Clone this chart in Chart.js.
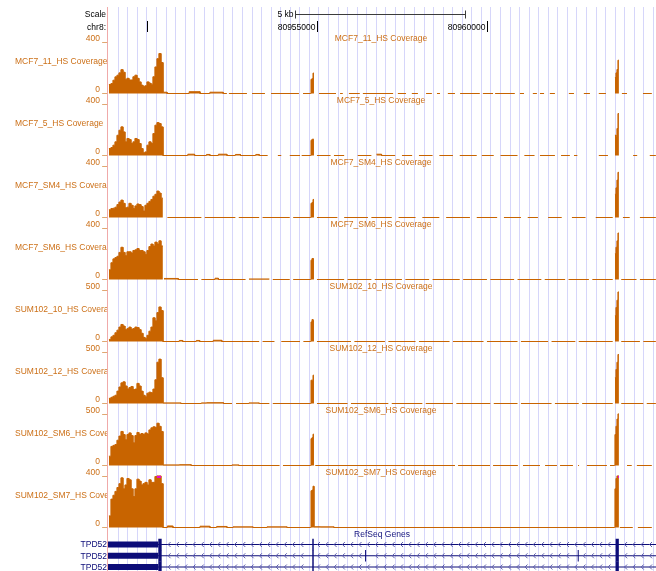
<!DOCTYPE html>
<html>
<head>
<meta charset="utf-8">
<script src="https://cdn.jsdelivr.net/npm/chart.js@4.4.1/dist/chart.umd.min.js"></script>
<style>
  html, body { margin: 0; padding: 0; background: #fff; }
  #browser { display: block; }
</style>
</head>
<body>
<canvas id="browser" width="656" height="571"></canvas>
<script>
// window on chr8, positions in kb relative to chr8:80,950,000
var chromName = 'chr8';
var chromOffset = 80950000;
var viewStartKb = -1.147;
var viewEndKb = 14.973;

var trackNames = ['MCF7_11_HS Coverage', 'MCF7_5_HS Coverage', 'MCF7_SM4_HS Coverage', 'MCF7_SM6_HS Coverage',
  'SUM102_10_HS Coverage', 'SUM102_12_HS Coverage', 'SUM102_SM6_HS Coverage', 'SUM102_SM7_HS Coverage'];
var trackMax = [400, 400, 400, 400, 500, 500, 500, 400];

// coverage over the 3' exon, 27 bins starting at -1.12 kb
var clusterStartKb = -1.12, clusterBinKb = 0.0588;
var clusterCov = [
  [70, 77, 103, 129, 142, 160, 185, 165, 110, 118, 105, 105, 130, 142, 118, 90, 65, 55, 60, 90, 80, 72, 130, 206, 270, 310, 240],
  [54, 62, 80, 106, 157, 196, 222, 183, 106, 132, 124, 93, 106, 132, 124, 93, 54, 21, 28, 80, 106, 93, 170, 235, 255, 248, 222],
  [60, 70, 72, 80, 100, 120, 135, 110, 75, 80, 110, 95, 70, 90, 105, 100, 85, 50, 95, 110, 125, 140, 165, 180, 205, 190, 150],
  [75, 130, 160, 170, 180, 210, 250, 210, 185, 215, 215, 205, 225, 230, 240, 225, 225, 215, 195, 225, 255, 275, 260, 290, 275, 300, 260],
  [20, 45, 60, 85, 110, 140, 165, 150, 115, 125, 140, 120, 125, 140, 135, 115, 80, 40, 30, 60, 100, 140, 230, 200, 280, 335, 300],
  [50, 60, 70, 80, 120, 160, 200, 210, 170, 140, 155, 165, 135, 140, 195, 170, 120, 80, 65, 100, 110, 105, 140, 230, 400, 430, 250],
  [90, 185, 195, 203, 245, 285, 330, 300, 250, 300, 316, 290, 220, 290, 320, 300, 310, 300, 316, 305, 345, 365, 375, 370, 410, 380, 330],
  [90, 220, 250, 280, 310, 340, 385, 300, 330, 380, 370, 300, 240, 300, 375, 360, 330, 340, 350, 330, 370, 350, 350, 395, 420, 420, 340]
];

// the two inner exons, fine bins
var exonBinKb = 0.0294;
var exon2StartKb = 4.824;
var exon2Cov = [
  [110, 115, 158], [118, 126, 126], [110, 116, 140], [150, 163, 160],
  [190, 213, 200], [226, 226, 274], [260, 270, 303], [285, 290, 320]
];
var exon3StartKb = 13.765;
var exon3Cov = [
  [124, 160, 186, 258], [157, 150, 209, 325], [180, 230, 290, 350], [200, 250, 300, 360],
  [250, 330, 400, 480], [250, 330, 400, 475], [300, 380, 450, 500], [300, 380, 400, 430]
];

// low background: [startKb, endKb, value], missing stretches have no data
var lowCov = [
  [[0.47, 0.59, 10], [0.59, 1.24, 0], [1.24, 1.56, 14], [1.56, 1.85, 0], [1.85, 2.24, 10], [2.24, 2.35, 0],
   [2.41, 2.94, 0], [3.09, 3.47, 0], [3.65, 4.47, 0], [4.59, 4.82, 0], [5.06, 5.56, 0], [5.68, 5.76, 0],
   [5.94, 6.26, 0], [6.35, 7.24, 0], [7.38, 7.62, 0], [7.79, 7.97, 0], [8.21, 8.38, 0], [8.53, 8.62, 0],
   [8.85, 9.06, 0], [9.21, 9.79, 0], [9.88, 10.18, 0], [10.24, 10.82, 0], [10.97, 11.09, 0], [11.35, 11.47, 0],
   [11.56, 11.68, 0], [11.85, 12.0, 0], [12.41, 12.56, 0], [12.85, 13.03, 0], [13.29, 13.5, 0], [13.97, 14.12, 0],
   [14.59, 14.85, 0]],
  [[0.47, 1.2, 0], [1.2, 1.4, 10], [1.4, 1.75, 0], [1.75, 1.85, 8], [1.85, 2.1, 0], [2.1, 2.35, 10],
   [2.35, 2.6, 0], [2.6, 2.75, 8], [2.75, 3.2, 0], [3.2, 3.3, 8], [3.3, 3.55, 0], [3.85, 3.95, 0],
   [4.2, 4.5, 0], [4.55, 4.82, 0], [5.0, 5.4, 0], [5.5, 5.8, 0], [6.2, 6.6, 0], [6.75, 6.9, 10],
   [6.9, 7.3, 0], [7.5, 7.8, 0], [8.0, 8.4, 0], [8.6, 9.0, 0], [9.2, 9.7, 0], [9.85, 10.2, 0],
   [10.4, 10.9, 0], [11.1, 11.4, 0], [11.56, 12.0, 0], [12.18, 12.44, 0], [12.56, 12.66, 0], [13.29, 13.56, 0],
   [14.3, 14.42, 0], [14.79, 14.97, 0]],
  [[0.6, 1.6, 0], [1.7, 2.6, 0], [2.7, 3.3, 0], [3.4, 4.2, 0], [4.3, 4.82, 0], [5.0, 5.6, 0],
   [5.8, 6.5, 0], [6.6, 7.2, 0], [7.4, 7.9, 0], [8.1, 8.6, 0], [8.8, 9.5, 0], [9.7, 10.3, 0],
   [10.5, 11.0, 0], [11.2, 11.5, 0], [11.8, 12.2, 0], [12.5, 12.9, 0], [13.2, 13.7, 0], [14.0, 14.2, 0],
   [14.5, 14.97, 0]],
  [[0.5, 0.92, 8], [0.92, 1.5, 0], [1.6, 2.0, 0], [2.0, 2.1, 10], [2.1, 2.9, 0], [3.0, 3.6, 4],
   [3.7, 4.2, 0], [4.3, 4.82, 0], [5.0, 5.8, 0], [5.9, 6.6, 0], [6.7, 7.5, 0], [7.6, 8.3, 0],
   [8.4, 9.2, 0], [9.3, 10.0, 0], [10.1, 10.8, 0], [10.9, 11.6, 0], [11.7, 12.3, 0], [12.4, 13.0, 0],
   [13.1, 13.7, 0], [13.95, 14.4, 0], [14.5, 14.97, 0]],
  [[0.47, 0.95, 0], [0.95, 1.05, 10], [1.05, 1.45, 0], [1.45, 1.55, 10], [1.55, 1.95, 0], [1.95, 2.2, 12],
   [2.2, 3.3, 0], [3.4, 3.75, 0], [3.95, 4.5, 0], [4.6, 4.82, 0], [5.0, 6.0, 0], [6.1, 7.0, 0],
   [7.1, 7.9, 0], [8.0, 8.9, 0], [9.0, 9.9, 0], [10.0, 10.9, 0], [11.0, 11.8, 0], [11.9, 12.6, 0],
   [12.7, 13.7, 0], [13.95, 14.5, 0], [14.6, 14.97, 0]],
  [[0.47, 1.0, 6], [1.0, 1.6, 0], [1.6, 1.75, 6], [1.75, 2.25, 8], [2.25, 2.5, 0], [2.62, 3.0, 0],
   [3.0, 3.3, 6], [3.3, 3.6, 0], [3.7, 4.82, 0], [5.0, 5.9, 0], [6.0, 7.1, 0], [7.2, 8.1, 0],
   [8.2, 9.0, 0], [9.1, 10.1, 0], [10.2, 10.9, 0], [11.0, 11.9, 0], [12.0, 12.7, 0], [12.8, 13.7, 0],
   [13.95, 14.6, 0], [14.7, 14.97, 0]],
  [[0.47, 0.95, 6], [0.95, 1.3, 8], [1.3, 2.5, 0], [2.5, 2.7, 6], [2.7, 3.9, 0], [4.0, 4.82, 0],
   [4.95, 9.06, 0], [9.15, 10.09, 0], [10.18, 10.91, 0], [11.06, 11.56, 0], [11.71, 12.06, 0], [12.15, 12.53, 0],
   [12.68, 12.71, 0], [12.94, 13.53, 0], [13.62, 13.76, 0], [14.12, 14.26, 0], [14.41, 14.85, 0]],
  [[0.47, 0.6, 0], [0.6, 0.76, 12], [0.76, 1.56, 0], [1.56, 1.85, 10], [1.85, 2.05, 0], [2.05, 2.35, 8],
   [2.35, 2.53, 0], [2.53, 3.12, 5], [3.12, 3.53, 0], [3.53, 4.12, 5], [4.12, 4.82, 0], [4.91, 5.1, 6],
   [5.1, 5.5, 5], [5.5, 13.76, 0], [13.91, 14.29, 0], [14.44, 14.85, 0]]
];

// RefSeq TPD52 isoforms (minus strand)
var geneNames = ['TPD52', 'TPD52', 'TPD52'];
var geneSpanKb = [-1.4, 15.2];
var utrExons = [
  [[-1.4, 0.333]],
  [[-1.4, 0.333]],
  [[-1.4, 0.333]]
];
var cdsExons = [
  [[0.333, 0.432], [4.862, 4.905], [13.785, 13.88]],
  [[0.333, 0.432], [4.862, 4.905], [6.415, 6.445], [12.67, 12.70], [13.785, 13.88]],
  [[0.333, 0.432], [4.862, 4.905], [13.785, 13.88]]
];

var rulerTicksKb = [0, 5, 10];
var scaleBarKb = 5;

var covColor = 'rgb(200,100,0)';
var labelColor = 'rgb(204,112,24)';
var geneColor = 'rgb(12,12,120)';
var font = '8.5px "Liberation Sans", Arial, sans-serif';

function coveragePoints(t) {
  var bins = [];
  clusterCov[t].forEach(function(v, i) {
    bins.push([clusterStartKb + i * clusterBinKb, clusterStartKb + (i + 1) * clusterBinKb, v]);
  });
  exon2Cov[t].forEach(function(v, i) {
    bins.push([exon2StartKb + i * exonBinKb, exon2StartKb + (i + 1) * exonBinKb, v]);
  });
  exon3Cov[t].forEach(function(v, i) {
    bins.push([exon3StartKb + i * exonBinKb, exon3StartKb + (i + 1) * exonBinKb, v]);
  });
  lowCov[t].forEach(function(r) { bins.push(r); });
  bins.sort(function(a, b) { return a[0] - b[0]; });

  var pts = [], prevEnd = null;
  bins.forEach(function(b) {
    var v = Math.min(b[2], trackMax[t]);   // clipped like the browser does
    if (prevEnd !== null && b[0] - prevEnd > 0.01) pts.push({x: (prevEnd + b[0]) / 2, y: null});
    pts.push({x: b[0], y: v}, {x: b[1], y: v});
    prevEnd = b[1];
  });
  return pts;
}

function blockPoints(blocks, row) {
  var pts = [];
  blocks.forEach(function(b) {
    pts.push({x: b[0], y: row}, {x: b[1], y: row}, {x: b[1], y: null});
  });
  return pts;
}

var datasets = [];
trackNames.forEach(function(name, t) {
  datasets.push({
    label: name, type: 'line', data: coveragePoints(t),
    xAxisID: 'x', yAxisID: 'y' + t,
    borderColor: covColor, backgroundColor: covColor, borderWidth: 1,
    pointRadius: 0, fill: 'origin', tension: 0, spanGaps: false, borderJoinStyle: 'miter',
    clip: {left: 0, right: 0, top: 0, bottom: 1}
  });
});
geneNames.forEach(function(name, r) {
  var row = r + 1;
  datasets.push({
    label: name, type: 'line', xAxisID: 'x', yAxisID: 'genes',
    data: [{x: geneSpanKb[0], y: row}, {x: geneSpanKb[1], y: row}],
    borderColor: geneColor, borderWidth: 1, pointRadius: 0, fill: false, clip: 0
  });
  datasets.push({
    label: name + ' utr', type: 'line', xAxisID: 'x', yAxisID: 'genes',
    data: blockPoints(utrExons[r], row),
    borderColor: geneColor, borderWidth: 6, borderCapStyle: 'butt', pointRadius: 0, fill: false, spanGaps: false, clip: 0
  });
  datasets.push({
    label: name + ' cds', type: 'line', xAxisID: 'x', yAxisID: 'genes',
    data: blockPoints(cdsExons[r], row),
    borderColor: geneColor, borderWidth: 11.3, borderCapStyle: 'butt', pointRadius: 0, fill: false, spanGaps: false, clip: 0
  });
});

// stacked vertical slots: ruler, 8 coverage tracks, genes (weights are pixels of the 564px plot)
var headH = 24.5, trackH = 62, trackPlotH = 51.6, genesH = 43.5, rowPitch = 11.25;
var scales = {
  x: {
    type: 'linear', position: 'bottom', min: viewStartKb, max: viewEndKb,
    ticks: {display: false}, border: {display: false},
    grid: {color: 'rgb(214,214,250)', lineWidth: 1, drawTicks: false},
    afterBuildTicks: function(axis) {
      var ticks = [];
      for (var k = -0.844; k <= viewEndKb; k += 0.2811) ticks.push({value: k});
      axis.ticks = ticks;
    }
  },
  head: {type: 'linear', position: 'left', stack: 'ucsc', stackWeight: headH, weight: 20,
         min: 0, max: headH, reverse: true, display: false}
};
trackNames.forEach(function(name, t) {
  scales['y' + t] = {
    type: 'linear', position: 'left', stack: 'ucsc', stackWeight: trackH, weight: 18 - t,
    min: 0, max: trackMax[t] * trackH / trackPlotH, display: false
  };
});
scales.genes = {type: 'linear', position: 'left', stack: 'ucsc', stackWeight: genesH, weight: 1,
                min: 1 - 17 / rowPitch, max: 1 - 17 / rowPitch + genesH / rowPitch, reverse: true, display: false};

var ucscDecor = {
  id: 'ucscDecor',
  afterDatasetsDraw: function(chart) {
    var ctx = chart.ctx, area = chart.chartArea, x = chart.scales.x, head = chart.scales.head;
    ctx.save();
    ctx.font = font;
    ctx.textBaseline = 'middle';

    // left border of the image area
    ctx.strokeStyle = 'rgb(240,170,170)';
    ctx.lineWidth = 1;
    ctx.beginPath();
    ctx.moveTo(area.left - 0.5, area.top);
    ctx.lineTo(area.left - 0.5, area.bottom);
    ctx.stroke();

    // scale bar
    var mid = (viewStartKb + viewEndKb) / 2;
    var bx0 = Math.round(x.getPixelForValue(mid - scaleBarKb / 2)) - 1.5;
    var bx1 = Math.round(x.getPixelForValue(mid + scaleBarKb / 2)) - 1.5;
    var by = Math.round(head.getPixelForValue(7)) + 0.5;
    ctx.strokeStyle = 'rgb(60,60,60)';
    ctx.beginPath();
    ctx.moveTo(bx0, by); ctx.lineTo(bx1, by);
    ctx.moveTo(bx0, by - 4); ctx.lineTo(bx0, by + 4);
    ctx.moveTo(bx1, by - 4); ctx.lineTo(bx1, by + 4);
    ctx.stroke();
    ctx.fillStyle = '#000';
    ctx.textAlign = 'right';
    ctx.fillText(scaleBarKb + ' kb', bx0 - 2, by);
    ctx.fillText('Scale', area.left - 2, head.getPixelForValue(8));
    ctx.fillText(chromName + ':', area.left - 2, head.getPixelForValue(20.5));

    // position ruler
    ctx.strokeStyle = '#000';
    rulerTicksKb.forEach(function(kb) {
      var px = Math.round(x.getPixelForValue(kb)) + 0.5;
      ctx.beginPath();
      ctx.moveTo(px, head.getPixelForValue(14));
      ctx.lineTo(px, head.getPixelForValue(25));
      ctx.stroke();
      var label = String(chromOffset + kb * 1000);
      var w = ctx.measureText(label).width;
      if (px - 2 - w > area.left) ctx.fillText(label, px - 2, head.getPixelForValue(20.5));
    });

    // coverage track labels
    trackNames.forEach(function(name, t) {
      var ys = chart.scales['y' + t];
      var yTop = ys.getPixelForValue(trackMax[t]);
      var y0 = ys.getPixelForValue(0);
      ctx.fillStyle = labelColor;
      ctx.textAlign = 'center';
      ctx.fillText(name, (area.left + area.right) / 2 - 1, yTop - 3.5);
      ctx.textAlign = 'right';
      ctx.fillText(trackMax[t] + ' _', area.left - 1, yTop - 3.5);
      ctx.fillText('0 _', area.left - 1, y0 - 4);
      ctx.save();
      ctx.beginPath();
      ctx.rect(0, 0, area.left - 1, chart.height);
      ctx.clip();
      ctx.textAlign = 'left';
      ctx.fillText(name, 15, y0 - 32);
      ctx.restore();

      // values above the view limit get a magenta mark
      ctx.fillStyle = 'rgb(230,0,230)';
      clusterCov[t].forEach(function(v, i) {
        if (v > trackMax[t]) {
          var a = x.getPixelForValue(clusterStartKb + i * clusterBinKb);
          var b = x.getPixelForValue(clusterStartKb + (i + 1) * clusterBinKb);
          ctx.fillRect(a, yTop, b - a, 2);
        }
      });
      exon3Cov[t].forEach(function(v, i) {
        if (v > trackMax[t]) {
          var a = x.getPixelForValue(exon3StartKb + i * exonBinKb);
          var b = x.getPixelForValue(exon3StartKb + (i + 1) * exonBinKb);
          ctx.fillRect(a, yTop, b - a, 2);
        }
      });
    });

    // gene track
    var g = chart.scales.genes;
    ctx.fillStyle = 'rgb(20,20,125)';
    ctx.textAlign = 'center';
    ctx.fillText('RefSeq Genes', (area.left + area.right) / 2, g.getPixelForValue(0.14));
    ctx.textAlign = 'right';
    geneNames.forEach(function(name, r) {
      var cy = g.getPixelForValue(r + 1);
      ctx.fillStyle = geneColor;
      ctx.fillText(name, area.left - 1, cy + 0.5);
      // strand chevrons along the introns
      var blocks = utrExons[r].concat(cdsExons[r]).map(function(b) {
        return [x.getPixelForValue(b[0]), x.getPixelForValue(b[1])];
      });
      ctx.strokeStyle = 'rgb(95,95,175)';
      ctx.beginPath();
      for (var px = area.left + 3; px < area.right - 2; px += 8.3) {
        var hit = blocks.some(function(b) { return px > b[0] - 3 && px < b[1] + 3; });
        if (hit) continue;
        ctx.moveTo(px + 1.5, cy - 2.5);
        ctx.lineTo(px - 1, cy);
        ctx.lineTo(px + 1.5, cy + 2.5);
      }
      ctx.stroke();
    });
    ctx.restore();
  }
};

new Chart(document.getElementById('browser'), {
  type: 'line',
  data: {datasets: datasets},
  options: {
    responsive: false,
    animation: false,
    events: [],
    layout: {padding: {left: 108, top: 7, right: 0, bottom: 0}},
    plugins: {legend: {display: false}, tooltip: {enabled: false}},
    scales: scales
  },
  plugins: [ucscDecor]
});
</script>
</body>
</html>
